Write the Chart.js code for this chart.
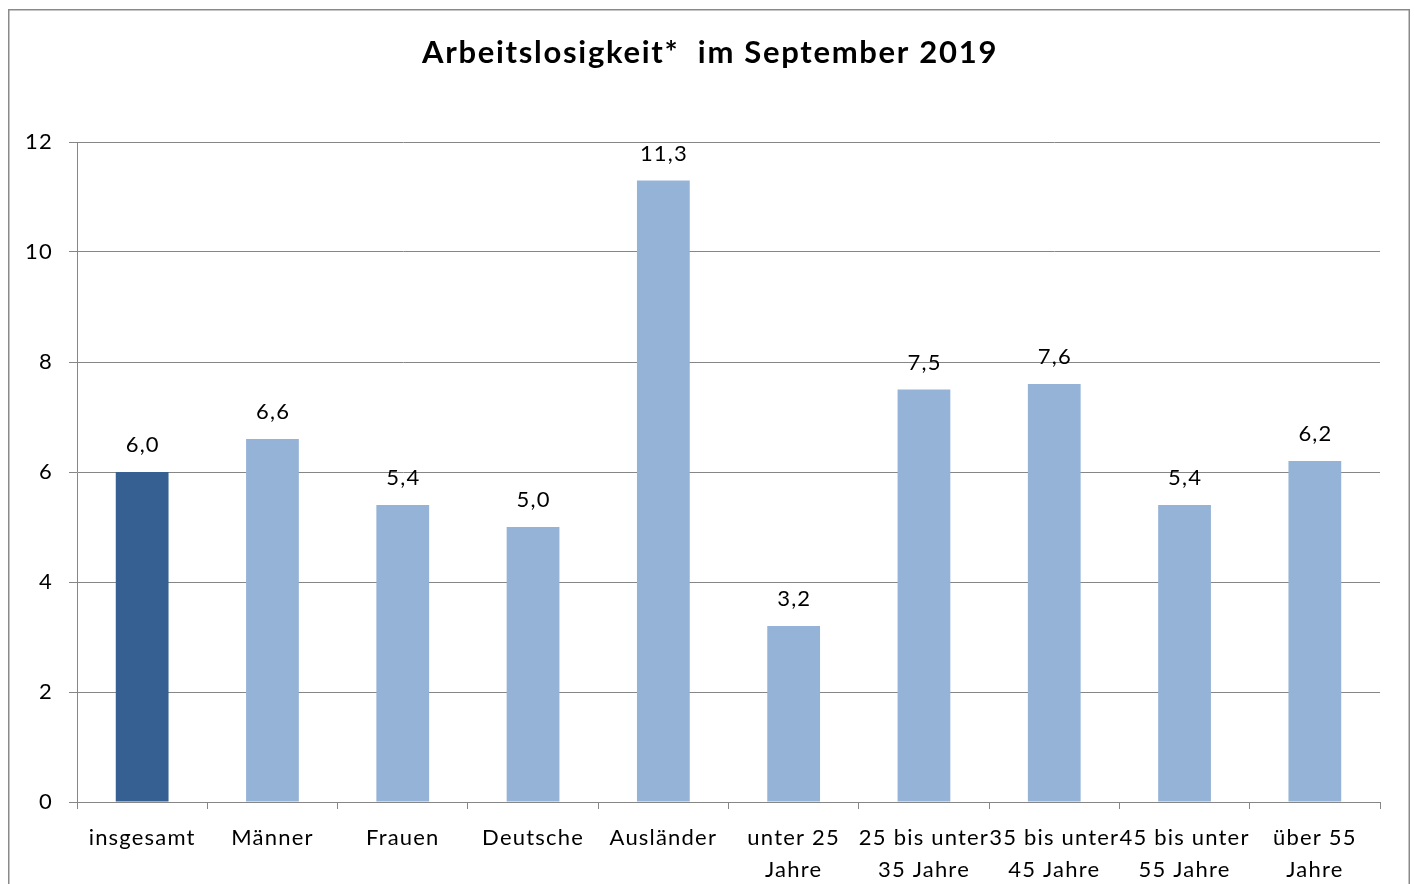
<!DOCTYPE html>
<html>
<head>
<meta charset="utf-8">
<script src="https://cdn.jsdelivr.net/npm/chart.js@4/dist/chart.umd.min.js"></script>
<style>
html,body{margin:0;padding:0;background:#fff;}
#wrap{width:1414px;height:884px;position:relative;}
</style>
</head>
<body>
<div id="wrap"><canvas id="c"></canvas></div>
<script>
const titleText = 'Arbeitslosigkeit*  im September 2019';
const categories = [
  'insgesamt', 'Männer', 'Frauen', 'Deutsche', 'Ausländer',
  ['unter 25', 'Jahre'], ['25 bis unter', '35 Jahre'], ['35 bis unter', '45 Jahre'],
  ['45 bis unter', '55 Jahre'], ['über 55', 'Jahre']
];
const values = [6.0, 6.6, 5.4, 5.0, 11.3, 3.2, 7.5, 7.6, 5.4, 6.2];
const yTicks = [0, 2, 4, 6, 8, 10, 12];

const DARK = '#366092';
const LIGHT = '#95B3D7';
const GRID = '#868686';
const FONT = 'Lato, "Open Sans", sans-serif';

const framePlugin = {
  id: 'frameAndTitle',
  beforeDraw(chart) {
    const ctx = chart.ctx;
    ctx.save();
    ctx.fillStyle = '#fff';
    ctx.fillRect(0, 0, chart.width, chart.height);
    ctx.strokeStyle = '#8a8a8a';
    ctx.lineWidth = 1.5;
    ctx.strokeRect(8.75, 9.75, 1400.5, 900);
    ctx.fillStyle = '#000';
    ctx.font = 'bold 31px ' + FONT;
    ctx.letterSpacing = '1.7px';
    ctx.textAlign = 'center';
    ctx.textBaseline = 'middle';
    ctx.fillText(titleText, 710, 53);
    ctx.restore();
    ctx.letterSpacing = '1.2px';
  },
  afterDatasetsDraw(chart) {
    const ctx = chart.ctx;
    const meta = chart.getDatasetMeta(0);
    ctx.save();
    ctx.fillStyle = '#000';
    ctx.font = '22px ' + FONT;
    ctx.letterSpacing = '1.2px';
    ctx.textAlign = 'center';
    ctx.textBaseline = 'middle';
    meta.data.forEach((bar, i) => {
      const v = chart.data.datasets[0].data[i];
      ctx.fillText(v.toFixed(1).replace('.', ','), bar.x + 0.6, bar.y - 27);
    });
    ctx.restore();
  },
  afterDraw(chart) {
    chart.ctx.letterSpacing = '0px';
  }
};

new Chart(document.getElementById('c'), {
  type: 'bar',
  data: {
    labels: categories,
    datasets: [{
      data: values,
      backgroundColor: values.map((v, i) => i === 0 ? DARK : LIGHT),
      borderWidth: 0,
      barPercentage: 0.405,
      categoryPercentage: 1.0
    }]
  },
  options: {
    responsive: true,
    maintainAspectRatio: false,
    devicePixelRatio: 1,
    animation: false,
    layout: { padding: { top: 142, right: 34, left: 0, bottom: 0 } },
    plugins: {
      legend: { display: false },
      title: { display: false },
      tooltip: { enabled: false }
    },
    scales: {
      x: {
        offset: true,
        grid: {
          offset: true,
          drawOnChartArea: false,
          drawTicks: true,
          tickLength: 7,
          color: GRID,
          lineWidth: 1
        },
        border: { display: true, color: GRID, width: 1 },
        ticks: {
          color: '#000',
          font: { family: FONT, size: 22, lineHeight: 1.45 },
          padding: 13,
          maxRotation: 0,
          autoSkip: false
        },
        afterFit(scale) { scale.height = 82; }
      },
      y: {
        min: 0,
        max: 12,
        afterBuildTicks(scale) { scale.ticks = yTicks.map(v => ({ value: v })); },
        grid: {
          color: GRID,
          lineWidth: 1,
          drawTicks: true,
          tickLength: 8
        },
        border: { display: true, color: GRID, width: 1 },
        ticks: {
          color: '#000',
          font: { family: FONT, size: 22 },
          padding: 16
        },
        afterFit(scale) { scale.width = 77; }
      }
    }
  },
  plugins: [framePlugin]
});
</script>
</body>
</html>
